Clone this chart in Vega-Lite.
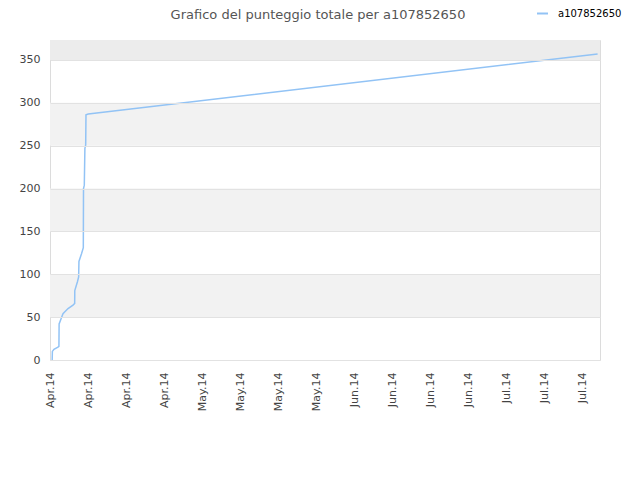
{
  "$schema": "https://vega.github.io/schema/vega-lite/v6.json",
  "autosize": {"type": "none"},
  "padding": {"left": 50, "top": 40, "right": 40, "bottom": 120},
  "width": 550,
  "height": 320,
  "background": "white",
  "title": {
    "text": "Grafico del punteggio totale per a107852650",
    "anchor": "middle",
    "dx": -7,
    "offset": -25,
    "baseline": "alphabetic",
    "font": "DejaVu Sans",
    "fontSize": 13,
    "fontWeight": "normal",
    "color": "#555555"
  },
  "layer": [
    {
      "data": {"values": [
        {"lo": 50, "hi": 100},
        {"lo": 150, "hi": 200},
        {"lo": 250, "hi": 300}
      ]},
      "mark": {"type": "rect", "color": "#f2f2f2"},
      "encoding": {
        "y": {"field": "lo", "type": "quantitative", "title": null},
        "y2": {"field": "hi"}
      }
    },
    {
      "data": {"values": [{"lo": 350, "hi": 373.3}]},
      "mark": {"type": "rect", "color": "#ececec"},
      "encoding": {
        "y": {"field": "lo", "type": "quantitative", "title": null},
        "y2": {"field": "hi"}
      }
    },
    {
      "data": {"values": [
        {"time": "2014-04-01T11:00:00Z", "score": 0, "user": "a107852650"},
        {"time": "2014-04-01T12:00:00Z", "score": 10, "user": "a107852650"},
        {"time": "2014-04-01T20:00:00Z", "score": 12.5, "user": "a107852650"},
        {"time": "2014-04-02T16:00:00Z", "score": 15, "user": "a107852650"},
        {"time": "2014-04-02T21:00:00Z", "score": 16, "user": "a107852650"},
        {"time": "2014-04-02T22:00:00Z", "score": 42, "user": "a107852650"},
        {"time": "2014-04-03T06:00:00Z", "score": 47, "user": "a107852650"},
        {"time": "2014-04-03T17:30:00Z", "score": 54, "user": "a107852650"},
        {"time": "2014-04-04T19:00:00Z", "score": 60, "user": "a107852650"},
        {"time": "2014-04-05T20:00:00Z", "score": 64, "user": "a107852650"},
        {"time": "2014-04-06T04:30:00Z", "score": 66, "user": "a107852650"},
        {"time": "2014-04-06T05:00:00Z", "score": 81, "user": "a107852650"},
        {"time": "2014-04-06T18:00:00Z", "score": 91, "user": "a107852650"},
        {"time": "2014-04-07T00:30:00Z", "score": 97, "user": "a107852650"},
        {"time": "2014-04-07T02:00:00Z", "score": 115, "user": "a107852650"},
        {"time": "2014-04-07T15:00:00Z", "score": 124, "user": "a107852650"},
        {"time": "2014-04-08T00:00:00Z", "score": 131, "user": "a107852650"},
        {"time": "2014-04-08T01:00:00Z", "score": 200, "user": "a107852650"},
        {"time": "2014-04-08T05:00:00Z", "score": 204, "user": "a107852650"},
        {"time": "2014-04-08T08:00:00Z", "score": 247, "user": "a107852650"},
        {"time": "2014-04-08T12:00:00Z", "score": 251, "user": "a107852650"},
        {"time": "2014-04-08T13:30:00Z", "score": 286, "user": "a107852650"},
        {"time": "2014-04-09T01:00:00Z", "score": 287, "user": "a107852650"},
        {"time": "2014-07-25T02:00:00Z", "score": 357, "user": "a107852650"}
      ]},
      "mark": {"type": "line", "strokeWidth": 1.5, "interpolate": "linear"},
      "encoding": {
        "x": {
          "field": "time",
          "type": "temporal",
          "title": null,
          "scale": {
            "type": "utc",
            "domain": [
              {"year": 2014, "month": 4, "date": 1, "utc": true},
              {"year": 2014, "month": 7, "date": 25, "hours": 14, "utc": true}
            ]
          },
          "axis": {
            "values": [
              {"year": 2014, "month": 4, "date": 1, "utc": true},
              {"year": 2014, "month": 4, "date": 9, "utc": true},
              {"year": 2014, "month": 4, "date": 17, "utc": true},
              {"year": 2014, "month": 4, "date": 25, "utc": true},
              {"year": 2014, "month": 5, "date": 3, "utc": true},
              {"year": 2014, "month": 5, "date": 11, "utc": true},
              {"year": 2014, "month": 5, "date": 19, "utc": true},
              {"year": 2014, "month": 5, "date": 27, "utc": true},
              {"year": 2014, "month": 6, "date": 4, "utc": true},
              {"year": 2014, "month": 6, "date": 12, "utc": true},
              {"year": 2014, "month": 6, "date": 20, "utc": true},
              {"year": 2014, "month": 6, "date": 28, "utc": true},
              {"year": 2014, "month": 7, "date": 6, "utc": true},
              {"year": 2014, "month": 7, "date": 14, "utc": true},
              {"year": 2014, "month": 7, "date": 22, "utc": true}
            ],
            "format": "%b.%y",
            "labelAngle": -90,
            "labelPadding": 12,
            "grid": false,
            "labelOverlap": false,
            "labelBound": false,
            "labelFlush": false
          }
        },
        "y": {
          "field": "score",
          "type": "quantitative",
          "title": null,
          "scale": {"domain": [0, 373.3], "nice": false, "zero": true},
          "axis": {
            "values": [0, 50, 100, 150, 200, 250, 300, 350],
            "grid": true,
            "gridColor": "#e2e2e2",
            "labelPadding": 10,
            "zindex": 1
          }
        },
        "color": {
          "field": "user",
          "type": "nominal",
          "scale": {"domain": ["a107852650"], "range": ["#92c3f5"]},
          "legend": {
            "title": null,
            "orient": "none",
            "legendX": 486,
            "legendY": -33,
            "padding": 0,
            "symbolType": "stroke",
            "symbolSize": 120,
            "symbolStrokeWidth": 2,
            "labelOffset": 9,
            "labelFont": "DejaVu Sans",
            "labelFontSize": 10,
            "labelColor": "#000000"
          }
        }
      }
    }
  ],
  "config": {
    "view": {"stroke": "#dcdcdc"},
    "axis": {
      "domain": false,
      "ticks": false,
      "labelFont": "DejaVu Sans",
      "labelFontSize": 11,
      "labelColor": "#444444"
    }
  }
}
